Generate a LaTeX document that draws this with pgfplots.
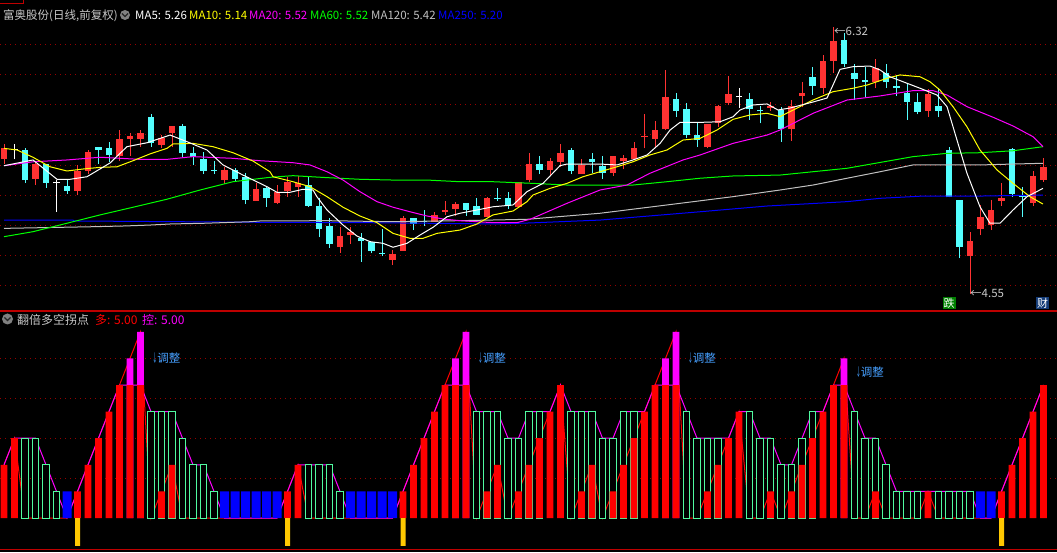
\documentclass[border=0pt]{standalone}
\usepackage{pgfplots}
\usepackage{pgfplotstable}
\usepackage{graphicx}
\pgfplotsset{compat=1.18}
\usepackage{fontspec}
\setmainfont{Noto Sans CJK SC}
\definecolor{cR}{RGB}{255,50,50}
\definecolor{cC}{RGB}{84,255,255}
\definecolor{cY}{RGB}{255,255,0}
\definecolor{cM}{RGB}{255,0,255}
\definecolor{cG}{RGB}{0,255,0}
\definecolor{cGr}{RGB}{192,192,192}
\definecolor{cB}{RGB}{0,0,255}
\definecolor{mint}{RGB}{80,250,160}
\definecolor{barR}{RGB}{255,0,0}
\definecolor{orng}{RGB}{255,200,0}
\definecolor{gridc}{RGB}{150,0,0}
\definecolor{sep}{RGB}{190,0,0}
\definecolor{lbl}{RGB}{70,160,255}
\definecolor{txt}{RGB}{200,200,200}
\definecolor{boxG}{RGB}{0,128,0}
\definecolor{boxB}{RGB}{20,60,120}

% ---------- candles ----------
\pgfplotstableread{
i o c h l
0 5.44 5.51 5.54 5.41
3 5.31 5.41 5.43 5.27
7 5.23 5.36 5.40 5.20
8 5.36 5.49 5.50 5.34
11 5.46 5.57 5.63 5.43
12 5.57 5.59 5.615 5.46
13 5.573 5.613 5.632 5.522
15 5.533 5.577 5.599 5.511
16 5.615 5.659 5.659 5.522
21 5.301 5.368 5.39 5.275
24 5.164 5.242 5.279 5.164
26 5.151 5.224 5.268 5.142
27 5.23 5.29 5.319 5.191
28 5.253 5.279 5.328 5.191
32 4.858 4.93 4.988 4.82
33 4.937 4.957 4.988 4.876
37 4.771 4.811 4.838 4.738
38 4.833 5.048 5.06 4.833
41 5.025 5.069 5.09 5.025
42 5.091 5.102 5.164 5.069
43 5.109 5.142 5.157 5.062
46 5.054 5.18 5.187 5.054
49 5.124 5.286 5.29 5.124
50 5.301 5.407 5.478 5.286
52 5.367 5.427 5.447 5.328
53 5.422 5.478 5.54 5.389
55 5.341 5.40 5.438 5.341
58 5.35 5.46 5.46 5.33
59 5.429 5.449 5.467 5.372
60 5.438 5.511 5.553 5.438
61 5.584 5.593 5.739 5.511
62 5.573 5.632 5.692 5.511
63 5.637 5.848 6.03 5.632
67 5.518 5.672 5.672 5.511
68 5.681 5.791 5.798 5.654
69 5.813 5.871 5.99 5.798
73 5.78 5.79 5.82 5.76
75 5.637 5.791 5.831 5.562
76 5.858 5.88 5.948 5.783
78 5.913 6.089 6.129 5.871
79 6.091 6.224 6.313 6.012
83 5.948 6.045 6.101 5.909
88 5.76 5.871 5.902 5.72
92 4.798 4.899 4.959 4.546
93 4.977 5.058 5.136 4.937
94 5.001 5.103 5.169 4.97
95 5.164 5.18 5.284 5.131
98 5.151 5.33 5.363 5.129
99 5.301 5.389 5.445 5.29
}\upT

\pgfplotstableread{
i o c h l
2 5.50 5.30 5.511 5.283
4 5.405 5.283 5.405 5.25
6 5.262 5.23 5.301 5.209
9 5.52 5.50 5.52 5.407
10 5.513 5.466 5.553 5.422
14 5.719 5.544 5.739 5.522
17 5.659 5.482 5.672 5.454
18 5.482 5.452 5.522 5.40
19 5.44 5.363 5.489 5.341
20 5.366 5.362 5.429 5.341
22 5.368 5.308 5.379 5.29
23 5.319 5.169 5.346 5.142
25 5.25 5.184 5.26 5.124
29 5.268 5.131 5.323 5.124
30 5.129 4.977 5.18 4.922
31 4.997 4.877 5.048 4.853
34 4.919 4.897 4.948 4.76
35 4.893 4.831 4.893 4.816
36 4.818 4.814 4.977 4.798
39 5.048 5.01 5.048 4.97
40 5.027 5.023 5.103 4.997
44 5.147 5.103 5.147 5.065
45 5.129 5.069 5.18 5.069
47 5.178 5.174 5.25 5.164
48 5.18 5.131 5.22 5.109
51 5.407 5.367 5.46 5.341
54 5.50 5.363 5.515 5.341
56 5.44 5.422 5.478 5.346
57 5.396 5.35 5.46 5.31
64 5.836 5.76 5.88 5.72
65 5.77 5.60 5.81 5.577
66 5.597 5.566 5.677 5.522
71 5.836 5.77 5.876 5.699
72 5.76 5.756 5.791 5.677
74 5.765 5.637 5.787 5.555
77 5.981 5.926 6.052 5.864
80 6.228 6.068 6.273 6.052
81 6.012 5.97 6.068 5.831
82 5.964 5.953 6.052 5.853
84 6.008 5.948 6.068 5.909
85 5.924 5.909 5.997 5.858
86 5.88 5.82 5.942 5.699
87 5.82 5.754 5.876 5.736
89 5.791 5.76 5.909 5.717
90 5.50 5.187 5.522 5.187
91 5.169 4.86 5.169 4.783
96 5.504 5.209 5.511 5.191
97 5.20 5.189 5.257 5.058
}\downT

\pgfplotstableread{
i o c h l
1 5.50 5.50 5.543 5.438
5 5.279 5.279 5.301 5.091
70 5.849 5.849 5.908 5.776
}\dojiT

% ---------- lower panel ----------
\pgfplotstableread{
i v
2 3
3 3
4 2
5 1
14 4
15 4
16 4
17 3
18 2
19 2
20 1
29 2
30 2
31 2
32 1
45 4
46 4
47 4
48 3
49 3
50 4
51 4
54 4
55 4
56 4
57 3
58 3
59 4
60 4
65 4
66 3
67 3
68 3
71 4
72 3
73 3
74 2
75 2
76 3
77 4
81 4
82 3
83 3
84 2
85 1
86 1
87 1
89 1
90 1
91 1
92 1
}\greenT

\pgfplotstableread{
i v
0 2
1 3
7 1
8 2
9 3
10 4
11 5
12 5
13 5
15 1
16 2
27 1
28 2
38 1
39 2
40 3
41 4
42 5
43 5
44 5
46 1
47 2
49 1
50 2
51 3
52 4
53 5
55 1
56 2
58 1
59 2
60 3
61 4
62 5
63 5
64 5
67 1
68 2
69 3
70 4
73 1
75 1
76 2
77 3
78 4
79 5
80 5
83 1
88 1
95 1
96 2
97 3
98 4
99 5
}\redT

\pgfplotstableread{
i v
12 6
13 7
43 6
44 7
63 6
64 7
80 6
}\magT

\pgfplotstableread{
i v
6 1
21 1
22 1
23 1
24 1
25 1
26 1
33 1
34 1
35 1
36 1
37 1
93 1
94 1
}\blueT

\pgfplotstableread{
i l r
0 2 2
1 3 3
2 3 0
3 3 0
4 2 0
5 1 0
6 0 0
7 1 1
8 2 2
9 3 3
10 4 4
11 5 5
12 5 6
13 5 7
14 4 0
15 4 1
16 4 2
17 3 0
18 2 0
19 2 0
20 1 0
21 0 0
22 0 0
23 0 0
24 0 0
25 0 0
26 0 0
27 1 1
28 2 2
29 2 0
30 2 0
31 2 0
32 1 0
33 0 0
34 0 0
35 0 0
36 0 0
37 0 0
38 1 1
39 2 2
40 3 3
41 4 4
42 5 5
43 5 6
44 5 7
45 4 0
46 4 1
47 4 2
48 3 0
49 3 1
50 4 2
51 4 3
52 4 4
53 5 5
54 4 0
55 4 1
56 4 2
57 3 0
58 3 1
59 4 2
60 4 3
61 4 4
62 5 5
63 5 6
64 5 7
65 4 0
66 3 0
67 3 1
68 3 2
69 3 3
70 4 4
71 4 0
72 3 0
73 3 1
74 2 0
75 2 1
76 3 2
77 4 3
78 4 4
79 5 5
80 5 6
81 4 0
82 3 0
83 3 1
84 2 0
85 1 0
86 1 0
87 1 0
88 1 1
89 1 0
90 1 0
91 1 0
92 1 0
93 0 0
94 0 0
95 1 1
96 2 2
97 3 3
98 4 4
99 5 5
}\linesT

\begin{document}
\begin{tikzpicture}
\fill[black] (0pt,0pt) rectangle (1057pt,552pt);

% ================= upper panel =================
\begin{axis}[
  at={(0pt,241pt)}, anchor=south west, scale only axis,
  width=1057pt, height=311pt,
  xmin=-0.381, xmax=100.286, ymin=4.4338, ymax=6.4934,
  axis line style={draw=none}, xtick=\empty,
  ytick={4.6,4.8,5.0,5.2,5.4,5.6,5.8,6.0,6.2}, yticklabels={},
  major tick length=0pt, ymajorgrids,
  grid style={draw=gridc, line width=0.9pt, dash pattern=on 1pt off 4pt},
  clip=true]

% wicks and bodies
\addplot[draw=none, mark=none, error bars/.cd, y dir=plus, y explicit, error mark=none,
  error bar style={draw=cR, line width=1pt}]
  table[x=i, y=l, y error plus expr=\thisrow{h}-\thisrow{l}] {\upT};
\addplot[draw=none, mark=none, error bars/.cd, y dir=plus, y explicit, error mark=none,
  error bar style={draw=cR, line width=6.7pt}]
  table[x=i, y=o, y error plus expr=\thisrow{c}-\thisrow{o}] {\upT};
\addplot[draw=none, mark=none, error bars/.cd, y dir=plus, y explicit, error mark=none,
  error bar style={draw=cC, line width=1pt}]
  table[x=i, y=l, y error plus expr=\thisrow{h}-\thisrow{l}] {\downT};
\addplot[draw=none, mark=none, error bars/.cd, y dir=plus, y explicit, error mark=none,
  error bar style={draw=cC, line width=6.7pt}]
  table[x=i, y=c, y error plus expr={max(\thisrow{o}-\thisrow{c},0.0066)}] {\downT};
\addplot[draw=none, mark=none, error bars/.cd, y dir=plus, y explicit, error mark=none,
  error bar style={draw=white, line width=1pt}]
  table[x=i, y=l, y error plus expr=\thisrow{h}-\thisrow{l}] {\dojiT};
\addplot[draw=none, mark=none, error bars/.cd, y dir=plus, y explicit, error mark=none,
  error bar style={draw=white, line width=6.7pt}]
  table[x=i, y=o, y error plus expr=0.0066] {\dojiT};

% MA250
\addplot[cB, line width=1pt] coordinates {(0,5.036)(6.57,5.036)(6.67,5.030)(25.05,5.021)(33.9,5.019)(40.29,5.015)(46.57,5.010)(50.1,5.017)(56.76,5.036)(66.29,5.091)(72.67,5.129)(80.29,5.158)(83.43,5.180)(87.52,5.195)(92.95,5.195)(98.95,5.202)};
% MA120
\addplot[cGr, line width=1pt] coordinates {(0,4.981)(8.48,4.992)(11.52,4.997)(13.9,5.003)(15.81,5.010)(19.14,5.015)(23.43,5.025)(24.38,5.030)(30.76,5.032)(37.05,5.025)(43.43,5.032)(49.81,5.041)(56.76,5.081)(63.14,5.136)(69.43,5.191)(73.9,5.235)(77.05,5.268)(80.29,5.313)(83.43,5.356)(86.57,5.401)(89.81,5.401)(92.95,5.401)(96.1,5.407)(98.95,5.412)};
% MA60
\addplot[cG, line width=1pt] coordinates {(0,4.926)(2.76,4.959)(6,5.015)(9.14,5.070)(12.29,5.121)(15.52,5.174)(18.67,5.235)(21.81,5.290)(25.33,5.319)(27.52,5.330)(30.76,5.317)(33.9,5.306)(37.05,5.301)(40.29,5.301)(43.43,5.290)(46.57,5.290)(50.38,5.279)(53.62,5.268)(59.9,5.268)(63.14,5.290)(66.29,5.313)(69.43,5.328)(73.9,5.334)(80.29,5.379)(86.57,5.456)(89.81,5.478)(92.95,5.482)(96.1,5.495)(98.95,5.522)};
% MA20
\addplot[cM, line width=1pt] coordinates {(0,5.396)(2.76,5.422)(6,5.434)(9.14,5.452)(12.95,5.438)(15.52,5.438)(18,5.456)(21.81,5.445)(24.38,5.429)(27.52,5.416)(29.14,5.401)(30.76,5.356)(32.29,5.301)(33.9,5.224)(35.52,5.158)(37.05,5.121)(38.67,5.091)(40.29,5.063)(41.81,5.043)(43.43,5.032)(45.05,5.025)(46.57,5.019)(48.86,5.019)(50.1,5.041)(53.62,5.147)(56.76,5.235)(59.33,5.268)(61.52,5.346)(64.67,5.434)(66.29,5.467)(69.43,5.544)(72.67,5.599)(73.9,5.632)(77.05,5.743)(80.29,5.831)(83.43,5.858)(86.57,5.893)(88.48,5.893)(89.81,5.864)(91.71,5.787)(94.19,5.717)(96.1,5.659)(98,5.588)(98.95,5.522)};
% MA10
\addplot[cY, line width=1pt] coordinates {(0,5.511)(1.24,5.50)(2.76,5.452)(4.38,5.389)(6,5.361)(7.52,5.374)(9.14,5.385)(10.76,5.389)(12.29,5.429)(13.9,5.474)(15.52,5.511)(16.1,5.540)(18,5.544)(19.9,5.522)(21.81,5.482)(23.71,5.427)(25.33,5.356)(25.62,5.323)(27.52,5.290)(29.14,5.257)(30.76,5.191)(32.29,5.121)(33.9,5.063)(35.52,5.019)(37.05,4.948)(38.67,4.915)(39.9,4.915)(41.24,4.948)(43.43,4.970)(45.05,5.010)(46.57,5.070)(48.48,5.096)(49.81,5.158)(50.38,5.202)(52,5.246)(53.62,5.279)(55.14,5.323)(56.76,5.356)(58.38,5.389)(59.9,5.422)(61.52,5.467)(63.14,5.50)(64.67,5.566)(66.29,5.577)(67.9,5.632)(69.43,5.703)(71.05,5.732)(72.67,5.743)(73.9,5.721)(77.05,5.831)(78.95,5.886)(80.86,5.909)(82.19,5.930)(84.1,5.975)(85.33,5.997)(87.24,5.985)(88.19,5.952)(89.14,5.897)(90.38,5.787)(91.71,5.654)(92.95,5.50)(94.57,5.368)(96.1,5.279)(97.71,5.191)(98.95,5.142)};
% MA5
\addplot[white, line width=1pt] coordinates {(0,5.396)(2.76,5.434)(5.05,5.306)(6.29,5.306)(7.9,5.323)(10.1,5.414)(11.71,5.522)(13.62,5.548)(15.81,5.599)(17.43,5.555)(19.33,5.50)(20.86,5.401)(22.76,5.334)(25.05,5.257)(26,5.220)(27.24,5.220)(28.48,5.240)(29.43,5.235)(29.8,5.191)(30.76,5.103)(32.29,5.003)(33.62,4.930)(34.86,4.893)(36.1,4.882)(37.05,4.856)(38.38,4.882)(39.62,4.937)(40.86,4.988)(42.19,5.058)(43.43,5.081)(45.05,5.103)(46.57,5.124)(48.48,5.136)(49.81,5.224)(50.1,5.235)(51.33,5.279)(52.95,5.396)(53.62,5.407)(56.76,5.407)(58.38,5.401)(59.9,5.434)(61.24,5.467)(62.48,5.544)(63.43,5.632)(64.38,5.683)(66.29,5.683)(68.19,5.687)(69.43,5.720)(70.1,5.765)(71.33,5.798)(72.67,5.805)(73.71,5.765)(74.86,5.778)(77.05,5.818)(78.38,5.844)(78.95,5.93)(79.62,6.034)(80.86,6.052)(82.48,6.056)(83.43,6.030)(84.38,5.985)(86,5.942)(87.24,5.909)(88.86,5.864)(89.81,5.787)(90.76,5.566)(91.71,5.346)(92.95,5.124)(93.9,5.015)(94.86,5.015)(96.1,5.103)(97.43,5.191)(98.95,5.246)};

\node[anchor=west, inner sep=0pt, text=txt, font=\fontsize{11.5}{12}\selectfont] at (axis cs:79.05,6.285) {←6.32};
\node[anchor=west, inner sep=0pt, text=txt, font=\fontsize{11.5}{12}\selectfont] at (axis cs:92.0,4.55) {←4.55};
\end{axis}

% ================= lower panel =================
\begin{axis}[
  at={(0pt,0pt)}, anchor=south west, scale only axis,
  width=1057pt, height=241pt,
  xmin=-0.381, xmax=100.286, ymin=-1.278, ymax=7.782,
  axis line style={draw=none}, xtick=\empty,
  ytick={1.5,3,4.5,6}, yticklabels={},
  major tick length=0pt, ymajorgrids,
  grid style={draw=gridc, line width=0.9pt, dash pattern=on 1pt off 4pt},
  clip=true]

\addplot[barR, line width=1pt] table[x=i, y=r] {\linesT};
\addplot[cM, line width=1pt] table[x=i, y=l] {\linesT};

\addplot[ybar, bar shift=0pt, bar width=0.64, fill=black, draw=mint, line width=1pt] table[x=i, y=v] {\greenT};
\addplot[ybar, bar shift=0pt, bar width=0.64, fill=cM, draw=none] table[x=i, y=v] {\magT};
\addplot[ybar, bar shift=0pt, bar width=0.64, fill=barR, draw=none] table[x=i, y=v] {\redT};
\addplot[ybar, bar shift=0pt, bar width=0.857, fill=cB, draw=none] table[x=i, y=v] {\blueT};
\addplot[ybar, bar shift=0pt, bar width=0.476, fill=orng, draw=none] coordinates {(7,-1.05)(27,-1.05)(38,-1.05)(95,-1.05)};

\node[anchor=west, inner sep=0pt, text=lbl, font=\fontsize{11.5}{12}\selectfont] at (axis cs:14.1,6.0) {\scalebox{0.45}[1]{↓}调整};
\node[anchor=west, inner sep=0pt, text=lbl, font=\fontsize{11.5}{12}\selectfont] at (axis cs:45.1,6.0) {\scalebox{0.45}[1]{↓}调整};
\node[anchor=west, inner sep=0pt, text=lbl, font=\fontsize{11.5}{12}\selectfont] at (axis cs:65.1,6.0) {\scalebox{0.45}[1]{↓}调整};
\node[anchor=west, inner sep=0pt, text=lbl, font=\fontsize{11.5}{12}\selectfont] at (axis cs:81.1,5.5) {\scalebox{0.45}[1]{↓}调整};
\end{axis}

% separators
\draw[sep, line width=1.2pt] (0pt,241pt) -- (1057pt,241pt);
\draw[sep, line width=1pt] (0pt,2.7pt) -- (1057pt,2.7pt);
\draw[sep, line width=1pt] (0pt,548pt) -- (23pt,548pt) -- (23pt,552pt);

% titles
\begin{scope}[every node/.style={anchor=base west, inner sep=0pt, font=\fontsize{11.5}{12}\selectfont}]
\node[text=txt] at (3pt,532.5pt) {富奥股份(日线,前复权)};
\node[text=white] at (135pt,532.5pt) {MA5: 5.26};
\node[text=cY] at (189pt,532.5pt) {MA10: 5.14};
\node[text=cM] at (249pt,532.5pt) {MA20: 5.52};
\node[text=cG] at (310pt,532.5pt) {MA60: 5.52};
\node[text=cGr] at (371pt,532.5pt) {MA120: 5.42};
\node[text=cB] at (438pt,532.5pt) {MA250: 5.20};
\node[text=txt, font=\fontsize{12}{12}\selectfont] at (17pt,227pt) {翻倍多空拐点};
\node[text=barR, font=\fontsize{12}{12}\selectfont] at (95pt,227pt) {多: 5.00};
\node[text=cM, font=\fontsize{12}{12}\selectfont] at (142pt,227pt) {控: 5.00};
\end{scope}
% icons
\fill[black!50] (125pt,537pt) circle (5pt);
\draw[black!85, line width=1.2pt] (122pt,538.5pt) -- (125pt,535.5pt) -- (128pt,538.5pt);
\fill[black!50] (7.5pt,233pt) circle (5.5pt);
\draw[black!85, line width=1.2pt] (4.5pt,234.5pt) -- (7.5pt,231.5pt) -- (10.5pt,234.5pt);

% boxes
\node[fill=boxG, text=white, inner sep=0pt, minimum width=13pt, minimum height=12pt, font=\fontsize{11}{11}\selectfont] at (949pt,249pt) {跌};
\node[fill=boxB, text=white, inner sep=0pt, minimum width=13pt, minimum height=12pt, font=\fontsize{11}{11}\selectfont] at (1042.5pt,249pt) {财};

\pgfresetboundingbox
\path[use as bounding box] (0pt,0pt) rectangle (1057pt,552pt);
\end{tikzpicture}
\end{document}
